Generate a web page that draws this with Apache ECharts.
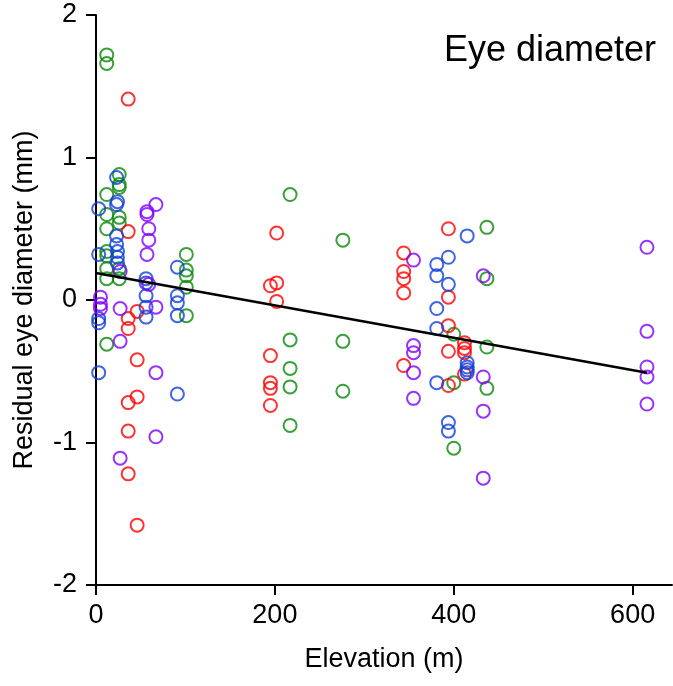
<!DOCTYPE html>
<html>
<head>
<meta charset="utf-8">
<script src="https://cdn.jsdelivr.net/npm/echarts@6/dist/echarts.min.js"></script>
<style>
html,body{margin:0;padding:0;background:#fff;}
#chart{width:673px;height:686px;}
</style>
</head>
<body>
<div id="chart"></div>
<script>
// residuals, [elevation, residual]
var greenPts = [
    [12,1.72],[12,1.66],[26,0.88],[26,0.81],[26,0.79],[12,0.74],[12,0.60],[26,0.58],[26,0.54],
    [12,0.50],[12,0.34],[12,0.31],[12,0.22],[26,0.22],[12,0.15],[26,0.15],[12,-0.31],
    [101,0.32],[101,0.21],[101,0.17],[101,0.09],[101,-0.11],
    [217,0.74],[217,-0.28],[217,-0.48],[217,-0.61],[217,-0.88],
    [276,0.42],[276,-0.29],[276,-0.64],
    [400,-0.24],[400,-0.58],[400,-1.04],
    [437,0.51],[437,0.15],[437,-0.33],[437,-0.62]
];
var redPts = [
    [36,1.41],[36,0.48],[46,-0.08],[36,-0.13],[36,-0.20],[46,-0.42],[46,-0.68],[36,-0.72],
    [36,-0.92],[36,-1.22],[46,-1.58],
    [202,0.47],[195,0.10],[202,0.12],[202,-0.01],[195,-0.39],[195,-0.58],[195,-0.62],[195,-0.74],
    [344,0.33],[344,0.20],[344,0.15],[344,0.05],[344,-0.46],
    [394,0.50],[394,0.02],[394,-0.18],[394,-0.36],[394,-0.60],
    [412,-0.30],[412,-0.34],[412,-0.37],[412,-0.52]
];
var bluePts = [
    [3,0.64],[3,0.32],[3,-0.13],[3,-0.16],[3,-0.51],
    [23,0.86],[24,0.69],[23,0.67],[23,0.45],[23,0.39],[24,0.34],[24,0.30],[24,0.26],
    [56,0.15],[56,0.12],[56,0.03],[56,-0.05],[56,-0.12],
    [91,0.23],[91,0.03],[91,-0.02],[91,-0.11],[91,-0.66],
    [381,0.25],[381,0.17],[381,-0.06],[381,-0.20],[381,-0.58],
    [394,0.30],[394,0.11],[394,-0.86],[394,-0.92],
    [415,0.45],[415,-0.44],[415,-0.47],[415,-0.49],[415,-0.51]
];
var purplePts = [
    [5,0.02],[5,-0.03],[5,-0.06],
    [27,0.20],[27,-0.06],[27,-0.29],[27,-1.11],
    [57,0.62],[57,0.60],[59,0.50],[59,0.42],[57,0.32],[59,0.11],
    [67,0.67],[67,-0.05],[67,-0.51],[67,-0.96],
    [355,0.28],[355,-0.32],[355,-0.37],[355,-0.51],[355,-0.69],
    [433,0.17],[433,-0.54],[433,-0.78],[433,-1.25],
    [616,0.37],[616,-0.22],[616,-0.47],[616,-0.54],[616,-0.73]
];
// fitted regression line end points
var fitLine = [[0,0.19],[616,-0.51]];
var xTicks = [0,200,400,600];

var font = 'Liberation Sans, Arial, sans-serif';

function dots(name,data,color){
    return {
        name:name,
        type:'scatter',
        data:data,
        symbol:'circle',
        symbolSize:13,
        itemStyle:{color:'rgba(0,0,0,0)',borderColor:color,borderWidth:2},
        z:3
    };
}

var chart = echarts.init(document.getElementById('chart'));
var option = {
    animation:false,
    backgroundColor:'#fff',
    textStyle:{fontFamily:font},
    title:{
        text:'Eye diameter',
        right:12,
        top:28,
        textStyle:{fontSize:36,fontWeight:'normal',color:'#000',fontFamily:font}
    },
    grid:{left:96,right:1,top:15,bottom:101,containLabel:false},
    xAxis:{
        type:'value',
        min:0,
        max:644,
        name:'Elevation (m)',
        nameLocation:'middle',
        nameGap:61,
        nameTextStyle:{fontSize:27,color:'#000',fontFamily:font},
        axisLine:{onZero:false,lineStyle:{color:'#000',width:2}},
        axisTick:{show:true,length:10,lineStyle:{color:'#000',width:2},
            customValues:xTicks},
        axisLabel:{fontSize:27,color:'#000',margin:17,fontFamily:font,
            customValues:xTicks},
        splitLine:{show:false}
    },
    yAxis:{
        type:'value',
        min:-2,
        max:2,
        interval:1,
        name:'Residual eye diameter (mm)',
        nameLocation:'middle',
        nameGap:58,
        nameTextStyle:{fontSize:27,color:'#000',fontFamily:font},
        axisLine:{onZero:false,lineStyle:{color:'#000',width:2}},
        axisTick:{show:true,length:10,lineStyle:{color:'#000',width:2}},
        axisLabel:{fontSize:27,color:'#000',margin:19,fontFamily:font},
        splitLine:{show:false}
    },
    series:[
        {
            name:'fit',
            type:'line',
            data:fitLine,
            symbol:'none',
            lineStyle:{color:'#000',width:2.5},
            z:5
        },
        dots('green',greenPts,'#0a880a'),
        dots('red',redPts,'#ff0000'),
        dots('blue',bluePts,'#1040d8'),
        dots('purple',purplePts,'#8000ff')
    ]
};
chart.setOption(option);
</script>
</body>
</html>
